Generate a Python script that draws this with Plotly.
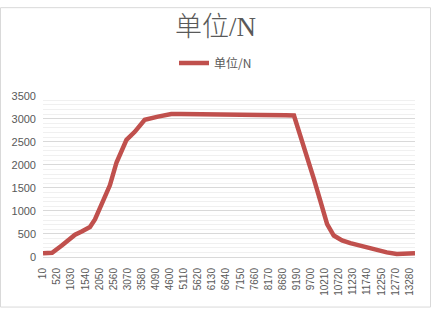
import plotly.graph_objects as go

# data
x_vals = [10, 340, 690, 1170, 1410, 1710, 1890, 2070, 2250, 2430, 2670, 3030,
          3330, 3690, 4170, 4650, 5010, 5730, 6810, 7890, 8790, 9090, 9330,
          9570, 9810, 10050, 10290, 10530, 10830, 11130, 11490, 11970, 12450,
          12810, 13410, 13470]
y_vals = [80, 90, 250, 485, 555, 650, 815, 1060, 1270, 1555, 2050, 2540,
          2715, 2975, 3045, 3100, 3100, 3100, 3090, 3080, 3075, 3070, 2610,
          2190, 1695, 1205, 715, 465, 360, 300, 240, 165, 100,
          65, 80, 80]
tick_vals = [10, 520, 1030, 1540, 2050, 2560, 3070, 3580, 4090, 4600, 5110,
             5620, 6130, 6640, 7150, 7660, 8170, 8680, 9190, 9700, 10210,
             10720, 11230, 11740, 12250, 12770, 13280]
tick_text = [str(v) for v in tick_vals]
series_name = "单位/N"
title_text = "单位/N"

W, H = 431, 309
ml, mr, mt, mb = 43, 16, 91, 52
pw, ph = W - ml - mr, H - mt - mb

fig = go.Figure()
fig.add_trace(go.Scatter(
    x=x_vals, y=y_vals, mode="lines", name=series_name,
    line=dict(color="#C0504D", width=4.5, shape="linear"),
    showlegend=True,
))

fig.update_layout(
    width=W, height=H,
    margin=dict(l=ml, r=mr, t=mt, b=mb, pad=0),
    paper_bgcolor="white", plot_bgcolor="white",
    title=dict(text=title_text, x=0.5, xanchor="center", y=1 - 27 / H,
               yanchor="middle",
               font=dict(family="Liberation Serif, Noto Sans CJK SC", size=27,
                         color="#595959", weight=300)),
    showlegend=True,
    legend=dict(orientation="h", xref="container", yref="container",
                x=0.5, xanchor="center", y=1 - 63 / H, yanchor="middle",
                font=dict(family="Noto Sans CJK SC, Liberation Sans", size=12,
                          color="#595959"),
                bgcolor="rgba(0,0,0,0)"),
    xaxis=dict(range=[10, 13470], tickmode="array", tickvals=tick_vals,
               ticktext=tick_text, tickangle=-90, showgrid=False,
               zeroline=False, showline=True, linecolor="#D9D9D9",
               linewidth=1, ticks="", ticklabelstandoff=6,
               tickfont=dict(family="Liberation Sans", size=10,
                             color="#595959")),
    yaxis=dict(range=[0, 3500], dtick=500, tick0=0, showgrid=True,
               gridcolor="#D9D9D9", gridwidth=1, zeroline=False,
               showline=False, ticks="", ticklabelstandoff=6,
               tickfont=dict(family="Liberation Sans", size=11,
                             color="#595959"),
               minor=dict(dtick=100, showgrid=True, gridcolor="#F0F0F0",
                          gridwidth=1)),
    shapes=[dict(type="rect", xref="paper", yref="paper",
                 x0=(0.5 - ml) / pw, x1=(W - 0.5 - ml) / pw,
                 y0=(H - mb - (H - 0.5)) / ph, y1=(H - mb - 0.5) / ph,
                 line=dict(color="#D9D9D9", width=1), layer="above")],
)

fig.write_html("out.html")
